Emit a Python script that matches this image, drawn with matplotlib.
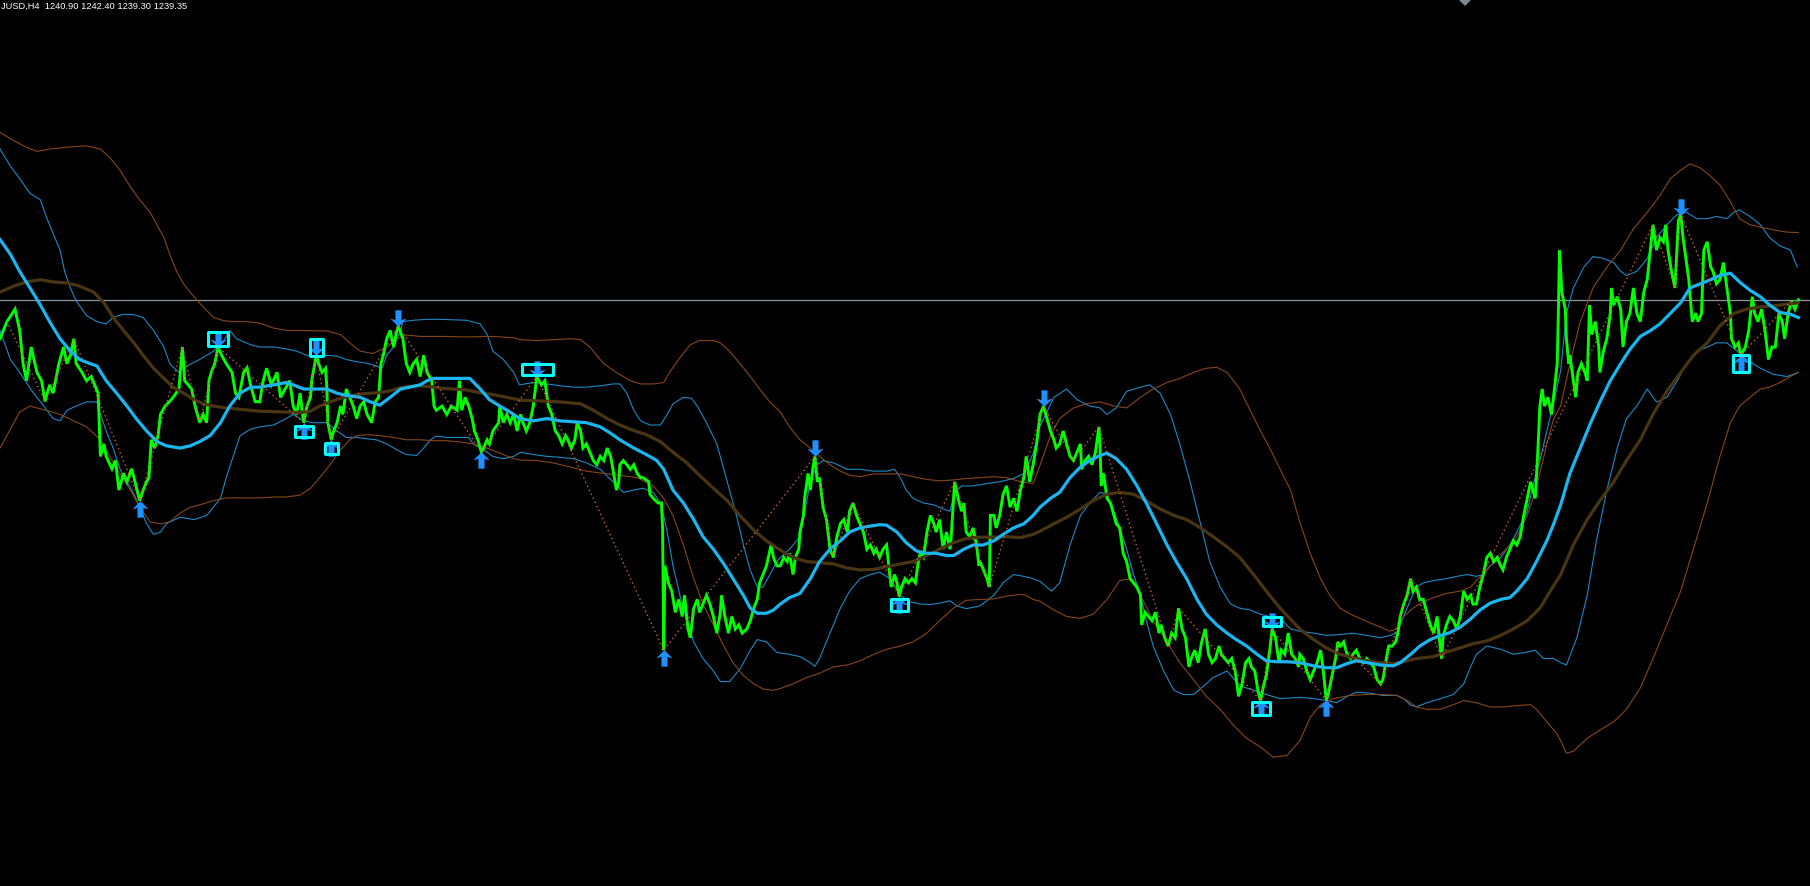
import matplotlib
matplotlib.use("Agg")
import matplotlib.pyplot as plt
from matplotlib.path import Path
from matplotlib.patches import Polygon
import matplotlib.transforms as mtransforms

# ---------------- data (bar index, price) ----------------
header_text = "JUSD,H4  1240.90 1242.40 1239.30 1239.35"
last_price = 1239.35

price_bar = [0, 6, 13, 17, 20, 23, 27, 32, 36, 39, 43, 46, 51, 55, 58, 61, 64, 66, 71, 75, 79, 82, 85, 87, 90, 92, 97, 100, 103, 107, 110, 114, 117, 121, 124, 127, 129, 131, 134, 137, 139, 143, 147, 150, 155, 158, 160, 163, 166, 169, 173, 176, 179, 181, 183, 186, 189, 192, 196, 201, 204, 207, 211, 214, 217, 221,
             225, 228, 231, 235, 240, 243, 247, 251, 254, 257, 260, 263, 266, 269, 270, 274, 276, 279, 282, 283, 284, 287, 289, 292, 295, 297, 300, 303, 306, 309, 312, 315, 318, 322, 325, 328, 330, 332, 335, 338, 341, 343, 345, 349, 352, 355, 358, 361, 364, 367, 370, 374, 376, 378, 383, 387, 391, 396, 398, 400, 403, 406, 409, 411, 414, 417, 419, 422, 424, 427, 432, 433, 436, 439, 442, 445, 448,
             451, 453, 456, 459, 462, 465, 469, 472, 475, 478, 481, 484, 487, 490, 492, 495, 498, 500, 503, 505, 508, 511, 514, 517, 520, 523, 526, 529, 531, 534, 536, 537, 540, 543, 546, 549, 552, 555, 557, 562, 563, 566, 570, 573, 574, 575, 576, 579, 582, 585, 588, 591, 593, 596, 598, 601, 604, 606, 609, 612, 615, 618, 621, 624, 625, 628, 631, 634, 637, 640, 643, 647, 650, 653, 656, 658, 661, 664, 668, 670, 673,
             676, 679, 682, 684, 687, 689, 692, 693, 696, 697, 700, 702, 704, 706, 708, 710, 713, 716, 719, 722, 725, 728, 731, 734, 736, 739, 742, 745, 748, 751, 754, 757, 759, 762, 765, 768, 770, 772, 775, 777, 779, 781, 784, 787, 790, 793, 795, 797, 800, 803, 806, 809, 811, 814, 817, 820, 823, 824, 827, 830, 833, 835, 837, 840, 843, 846, 848, 849, 852, 855, 857, 858, 861, 863, 866, 869, 872, 875, 878, 881, 884, 887, 889, 892, 895, 898,
             901, 904, 907, 910, 913, 915, 918, 921, 924, 927, 930, 933, 936, 937, 940, 943, 946, 949, 952, 953, 954, 956, 959, 962, 965, 967, 970, 973, 976, 979, 982, 985, 988, 989, 992, 995, 998, 1001, 1004, 1006, 1009, 1012, 1015, 1018, 1021, 1024, 1027, 1030, 1032, 1035, 1038, 1041, 1044, 1047, 1050, 1053, 1056, 1058, 1061, 1064, 1067, 1070, 1073, 1076, 1079, 1082, 1084, 1087, 1090, 1092, 1095, 1097, 1100, 1102, 1105, 1108, 1110, 1113, 1116, 1119, 1122, 1125,
             1126, 1129, 1132, 1135, 1138, 1141, 1144, 1146, 1149, 1151, 1154, 1157, 1159, 1161, 1164, 1167, 1170, 1172, 1175, 1178, 1181, 1184, 1187, 1190, 1193, 1196, 1198, 1201, 1203, 1206, 1209, 1211, 1213, 1216, 1219, 1222, 1224, 1227, 1230, 1233, 1236, 1239, 1242, 1245, 1248, 1249, 1250, 1253, 1256, 1259, 1262, 1265, 1268, 1271, 1274, 1276, 1279, 1282, 1285, 1288, 1291, 1294, 1297, 1300, 1302, 1305, 1308, 1311, 1314, 1317, 1320, 1323, 1326, 1328, 1330, 1332, 1334, 1336, 1338, 1341, 1344, 1347, 1349, 1350, 1351,
             1352, 1353, 1356, 1357, 1359, 1360, 1363, 1365, 1367, 1370, 1373, 1375, 1377, 1379, 1382, 1385, 1386, 1389, 1392, 1395, 1396, 1398, 1401, 1404, 1406, 1409, 1412, 1415, 1418, 1421, 1424, 1427, 1430, 1432, 1435, 1438, 1441, 1443, 1445, 1448, 1451, 1454, 1456, 1458, 1461, 1463, 1466, 1469, 1471, 1474, 1476, 1479, 1482, 1484, 1487, 1490, 1493, 1496, 1499, 1500, 1503, 1506, 1508, 1512, 1515, 1518, 1520, 1523, 1526, 1529, 1532, 1535, 1538, 1541, 1544, 1546, 1549, 1552, 1555, 1558]

price_close = [1230.9, 1234.6, 1237.3, 1232.8, 1225.5, 1221.8, 1229.1, 1223.6, 1221.8, 1217.3, 1220.9, 1219.1, 1225.5, 1229.1, 1225.5, 1227.3, 1230.9, 1225.5, 1223.6, 1221.8, 1222.7, 1220.9, 1219.1, 1205.4, 1208.1, 1205.4, 1202.7, 1204.5, 1198.1, 1201.7, 1199.9, 1202.7, 1199.9, 1195.8, 1198.1, 1199.9, 1200.8, 1209.0, 1207.2, 1210.0, 1214.5, 1216.3, 1217.3, 1218.2, 1220.0, 1229.1, 1221.8, 1220.9, 1220.0, 1216.3, 1212.7, 1214.5, 1212.7, 1221.8, 1223.6, 1225.5, 1229.1, 1227.3, 1225.5, 1223.6, 1219.1, 1218.2, 1223.6, 1224.6, 1220.9, 1217.3,
               1217.2, 1221.8, 1224.5, 1220.9, 1223.6, 1218.2, 1220.0, 1221.8, 1216.3, 1214.5, 1219.1, 1212.7, 1216.3, 1218.2, 1221.8, 1227.3, 1225.5, 1223.6, 1224.5, 1220.9, 1212.7, 1209.0, 1210.9, 1212.7, 1216.3, 1214.5, 1220.0, 1218.2, 1216.3, 1213.6, 1216.3, 1217.2, 1214.5, 1212.7, 1217.2, 1218.2, 1225.5, 1227.3, 1230.9, 1232.7, 1229.1, 1231.8, 1233.7, 1230.9, 1225.5, 1223.6, 1225.5, 1226.4, 1222.7, 1227.3, 1223.6, 1221.8, 1216.3, 1215.4, 1216.3, 1214.5, 1216.3, 1215.4, 1221.8, 1215.4, 1218.2, 1216.3, 1213.6, 1210.9, 1209.0, 1206.3, 1207.2, 1209.0, 1208.1, 1210.9, 1212.7, 1216.3, 1212.7, 1214.5, 1212.7, 1214.5, 1210.9,
               1214.5, 1212.7, 1210.9, 1212.7, 1216.3, 1222.7, 1220.9, 1221.8, 1216.3, 1214.5, 1210.9, 1209.9, 1208.1, 1209.9, 1209.0, 1207.2, 1209.0, 1212.7, 1210.9, 1207.2, 1208.1, 1206.3, 1204.5, 1203.6, 1205.4, 1204.5, 1207.2, 1205.4, 1202.6, 1198.1, 1199.9, 1203.6, 1204.5, 1203.6, 1202.6, 1203.6, 1201.7, 1200.8, 1200.8, 1199.9, 1197.2, 1196.3, 1195.3, 1195.3, 1189.9, 1163.4, 1181.7, 1178.0, 1176.2, 1171.6, 1174.4, 1170.7, 1175.3, 1168.0, 1166.1, 1172.5, 1174.4, 1171.6, 1173.4, 1175.3, 1173.4, 1170.7, 1167.1, 1171.6, 1175.3, 1170.7, 1167.1, 1170.7, 1168.0, 1168.9, 1167.1, 1168.0, 1169.8, 1172.5, 1174.4, 1178.0, 1179.8, 1181.7, 1186.2, 1183.5, 1181.7,
               1181.7, 1183.5, 1182.6, 1184.4, 1179.8, 1183.5, 1185.3, 1189.0, 1192.6, 1196.3, 1201.7, 1198.1, 1202.6, 1205.4, 1199.9, 1200.8, 1194.4, 1191.7, 1185.3, 1183.5, 1188.0, 1190.8, 1191.7, 1189.0, 1193.5, 1195.3, 1192.6, 1190.8, 1189.0, 1185.3, 1186.2, 1184.4, 1185.3, 1183.5, 1185.3, 1186.2, 1181.7, 1177.1, 1179.8, 1178.0, 1175.0, 1177.1, 1178.9, 1178.0, 1178.9, 1178.0, 1181.7, 1184.4, 1183.5, 1189.0, 1192.6, 1190.8, 1189.0, 1191.7, 1185.3, 1189.0, 1185.3, 1188.0, 1199.9, 1196.3, 1193.5, 1195.3, 1189.0, 1188.0, 1189.9, 1186.2, 1181.7, 1182.6, 1180.8, 1178.9, 1177.1, 1192.6, 1192.6, 1189.9, 1192.6, 1197.2, 1199.0, 1194.4, 1196.3, 1193.5, 1198.1, 1200.8, 1205.4, 1199.9, 1203.6, 1208.1,
               1214.5, 1216.3, 1213.6, 1210.9, 1209.0, 1207.2, 1208.1, 1210.9, 1208.1, 1205.4, 1204.5, 1206.3, 1208.1, 1202.6, 1204.5, 1205.4, 1203.6, 1206.3, 1211.8, 1207.2, 1199.0, 1201.7, 1196.3, 1195.3, 1192.6, 1190.8, 1189.9, 1184.4, 1182.6, 1178.9, 1178.0, 1177.1, 1175.3, 1168.9, 1171.6, 1170.7, 1169.8, 1171.6, 1167.1, 1168.9, 1166.1, 1164.3, 1167.1, 1166.1, 1172.5, 1168.0, 1166.1, 1159.8, 1161.6, 1163.4, 1160.7, 1165.2, 1168.0, 1162.5, 1160.7, 1161.6, 1164.3, 1162.5, 1161.6, 1160.7, 1161.6, 1158.9, 1153.4, 1156.1, 1160.7, 1161.6, 1159.8, 1158.9, 1154.3, 1152.5, 1156.1, 1157.9, 1163.4, 1168.0, 1166.1, 1160.7, 1163.4, 1162.5, 1167.1, 1162.5, 1161.6, 1159.8,
               1162.5, 1161.6, 1158.9, 1157.0, 1158.9, 1160.7, 1163.4, 1159.8, 1152.5, 1154.3, 1157.9, 1161.6, 1165.2, 1164.3, 1165.2, 1162.5, 1161.6, 1162.5, 1163.4, 1161.6, 1160.7, 1161.6, 1160.7, 1159.8, 1157.0, 1156.1, 1157.0, 1161.6, 1164.3, 1164.3, 1165.2, 1167.1, 1170.7, 1173.4, 1175.3, 1178.9, 1176.2, 1177.1, 1174.4, 1174.4, 1171.6, 1168.9, 1167.1, 1170.7, 1163.4, 1161.6, 1166.1, 1168.9, 1170.7, 1169.8, 1168.0, 1170.7, 1176.2, 1174.4, 1175.3, 1173.4, 1173.4, 1177.1, 1179.8, 1183.5, 1184.4, 1182.6, 1183.5, 1181.7, 1180.8, 1183.5, 1185.3, 1187.1, 1186.2, 1188.0, 1192.6, 1196.3, 1199.9, 1198.1, 1196.3, 1205.4, 1216.3, 1220.0, 1216.3, 1218.2, 1214.5, 1220.9, 1225.5, 1236.4, 1250.1,
               1245.5, 1241.0, 1237.3, 1230.9, 1225.5, 1227.3, 1221.8, 1218.2, 1223.6, 1225.5, 1223.6, 1221.8, 1238.2, 1231.8, 1234.6, 1229.1, 1223.6, 1228.2, 1230.9, 1236.4, 1241.9, 1238.2, 1240.0, 1237.3, 1229.1, 1234.6, 1236.4, 1241.9, 1236.4, 1234.6, 1241.0, 1243.7, 1251.0, 1255.6, 1250.1, 1252.8, 1251.9, 1255.6, 1250.1, 1245.5, 1241.9, 1256.5, 1257.8, 1252.8, 1247.4, 1243.7, 1234.6, 1236.4, 1234.6, 1236.4, 1250.1, 1251.9, 1246.4, 1245.5, 1242.8, 1243.7, 1247.4, 1241.9, 1236.4, 1230.9, 1229.1, 1230.0, 1227.3, 1229.1, 1232.7, 1240.0, 1236.4, 1234.6, 1237.3, 1232.7, 1226.4, 1229.1, 1229.1, 1236.4, 1234.6, 1230.9, 1236.4, 1239.1, 1237.3, 1239.35]

# fast moving average (thick light blue)
ma_fast_bar = [0, 9, 17, 26, 35, 43, 52, 61, 69, 78, 84, 92, 101, 110, 118, 127, 136, 144, 156, 165, 173, 182, 191, 199, 208, 217, 225, 237, 248, 254, 263, 271, 283, 292, 300, 312, 321, 329, 338, 347, 355, 364, 370, 375, 387, 399, 407, 416, 424, 433, 442, 450, 462, 474, 485, 497, 508, 520, 529, 537, 549, 560, 569, 575, 583, 592, 601, 609, 618, 627, 635, 644, 650, 656, 664, 670, 676, 684, 693, 702, 710, 719, 728, 736, 745, 754, 762, 768, 777, 785, 794, 803, 811, 820, 826, 835, 843, 852, 861, 869, 878, 887, 895, 901, 910, 918, 927, 936, 944, 953, 959, 967, 976, 985, 993, 1002, 1011, 1019, 1028, 1037, 1045, 1054, 1063, 1071, 1080, 1089, 1097, 1106, 1115, 1126, 1138, 1149, 1158, 1167, 1175, 1184, 1196, 1207, 1213, 1222, 1230, 1239, 1248, 1256, 1265, 1274, 1282, 1291, 1300, 1308, 1314, 1323, 1331, 1340, 1346, 1352, 1360, 1369, 1378, 1386, 1395, 1404, 1412, 1421, 1430, 1438, 1447, 1456, 1464, 1473, 1482, 1490, 1499, 1507, 1516, 1525, 1533, 1542, 1551, 1558]
ma_fast = [1252.4, 1249.2, 1245.5, 1241.9, 1238.2, 1234.6, 1230.9, 1228.2, 1226.4, 1225.5, 1225.0, 1221.8, 1219.1, 1216.3, 1213.6, 1210.9, 1208.6, 1207.7, 1207.2, 1207.7, 1208.6, 1209.9, 1212.7, 1216.3, 1219.1, 1220.4, 1220.4, 1220.9, 1221.4, 1220.9, 1220.0, 1220.0, 1220.0, 1219.1, 1218.6, 1218.2, 1217.2, 1216.5, 1218.2, 1220.0, 1220.4, 1220.9, 1221.8, 1222.3, 1222.3, 1222.3, 1222.3, 1220.0, 1217.7, 1216.3, 1215.0, 1213.6, 1213.1, 1213.6, 1213.1, 1212.9, 1212.7, 1211.8, 1210.4, 1209.0, 1207.2, 1205.8, 1204.5, 1202.6, 1198.1, 1195.3, 1191.7, 1188.0, 1185.3, 1182.1, 1178.9, 1175.3, 1172.5, 1171.4, 1171.4, 1172.1, 1173.4, 1174.8, 1175.7, 1178.9, 1182.6, 1185.3, 1187.1, 1189.0, 1189.9, 1190.3, 1190.6, 1190.5, 1189.0, 1186.7, 1184.9, 1184.4, 1184.4, 1183.9, 1183.9, 1185.3, 1186.2, 1186.2, 1187.1, 1188.5, 1189.9, 1190.8, 1192.6, 1194.4, 1196.3, 1197.6, 1200.8, 1203.1, 1204.5, 1205.6, 1206.1, 1204.9, 1202.6, 1199.0, 1195.3, 1190.8, 1186.2, 1182.6, 1178.9, 1174.4, 1171.2, 1168.9, 1167.1, 1165.7, 1164.3, 1162.5, 1161.1, 1160.9, 1160.9, 1160.7, 1160.0, 1159.6, 1159.6, 1160.5, 1161.1, 1160.7, 1160.2, 1160.0, 1160.7, 1162.5, 1164.3, 1165.7, 1166.6, 1167.2, 1168.4, 1170.2, 1172.1, 1173.6, 1174.4, 1174.8, 1176.2, 1178.9, 1182.6, 1187.1, 1190.8, 1194.9, 1201.7, 1207.2, 1212.7, 1217.2, 1221.8, 1225.5, 1228.6, 1231.4, 1232.7, 1234.1, 1236.4, 1238.7, 1241.9, 1242.8, 1243.7, 1244.6, 1245.1, 1243.2, 1241.4, 1240.0, 1238.2, 1236.6, 1236.2, 1235.5]

# slow moving average (thick dark brown)
ma_slow_bar = [0, 12, 23, 35, 46, 58, 69, 81, 90, 98, 107, 116, 124, 133, 142, 150, 159, 168, 176, 185, 196, 208, 225, 237, 248, 260, 269, 277, 286, 295, 303, 312, 321, 329, 338, 347, 355, 364, 373, 381, 393, 404, 416, 427, 439, 451, 468, 485, 503, 514, 526, 537, 549, 560, 572, 583, 595, 606, 618, 630, 641, 653, 664, 676, 687, 699, 710, 722, 734, 745, 757, 768, 780, 791, 803, 814, 826, 837, 849, 861, 872, 884, 895, 901, 913, 924, 936, 947, 959, 970, 982, 993, 1005, 1017, 1028, 1040, 1051, 1063, 1074, 1086, 1097, 1109, 1121, 1126, 1138, 1149, 1161, 1172, 1184, 1196, 1207, 1216, 1227, 1242, 1253, 1265, 1276, 1288, 1300, 1311, 1323, 1334, 1343, 1352, 1363, 1375, 1386, 1398, 1409, 1421, 1432, 1444, 1456, 1467, 1479, 1490, 1502, 1513, 1525, 1536, 1548, 1558]
ma_slow = [1241.0, 1242.3, 1243.2, 1243.7, 1243.2, 1243.0, 1242.3, 1241.0, 1238.7, 1235.5, 1232.7, 1230.0, 1227.3, 1224.5, 1222.3, 1220.4, 1219.1, 1217.7, 1216.8, 1216.3, 1215.9, 1215.6, 1215.2, 1215.1, 1215.0, 1214.9, 1215.2, 1216.3, 1217.2, 1218.0, 1218.5, 1218.9, 1219.1, 1219.2, 1219.6, 1220.3, 1220.6, 1220.7, 1220.5, 1220.2, 1220.0, 1219.8, 1219.2, 1218.8, 1218.2, 1217.6, 1217.4, 1217.2, 1216.8, 1215.4, 1213.6, 1212.2, 1211.0, 1210.1, 1208.6, 1206.3, 1204.0, 1201.3, 1198.5, 1195.8, 1192.6, 1189.4, 1187.1, 1185.1, 1183.5, 1182.6, 1182.4, 1182.1, 1181.2, 1180.8, 1180.9, 1181.5, 1182.1, 1182.6, 1183.9, 1185.3, 1186.7, 1187.6, 1187.9, 1187.9, 1188.0, 1187.8, 1188.5, 1189.2, 1190.8, 1192.2, 1194.0, 1195.8, 1197.2, 1197.6, 1197.2, 1195.8, 1194.0, 1192.6, 1191.7, 1189.9, 1188.0, 1185.8, 1183.5, 1179.8, 1176.2, 1172.5, 1169.3, 1168.0, 1165.7, 1163.9, 1162.5, 1161.8, 1161.1, 1160.7, 1160.5, 1160.9, 1161.6, 1162.0, 1163.0, 1163.9, 1164.8, 1165.4, 1166.6, 1168.0, 1169.8, 1172.5, 1176.2, 1179.8, 1186.2, 1191.7, 1195.8, 1199.9, 1204.5, 1209.0, 1214.5, 1219.5, 1223.6, 1227.3, 1230.0, 1233.7, 1236.4, 1237.3, 1237.8, 1238.0, 1238.4, 1238.7]

# envelope around fast average (thin blue)
fast_upper_bar = [0, 9, 17, 26, 35, 40, 46, 52, 56, 61, 66, 75, 84, 92, 98, 107, 116, 124, 133, 142, 147, 155, 162, 173, 185, 194, 199, 205, 217, 225, 237, 248, 257, 266, 274, 283, 292, 300, 309, 318, 326, 331, 335, 341, 347, 349, 358, 370, 381, 393, 404, 416, 422, 427, 436, 445, 450, 462, 474, 485, 497, 508, 520, 531, 537, 543, 549, 555, 563, 572, 578, 583, 592, 599, 604, 612, 621, 627, 632, 638, 644, 650, 656, 661, 667, 673, 676, 684, 693, 702, 708, 713, 722, 734, 745, 757, 768, 775, 780, 785, 791, 800, 809, 817, 823, 827, 833, 843, 855, 866, 878, 887, 895, 901, 913, 924, 933, 944, 953, 959, 967, 976, 988, 996, 1005, 1014, 1022, 1031, 1040, 1048, 1057, 1066, 1074, 1083, 1092, 1100, 1109, 1118, 1126, 1138, 1149, 1161, 1172, 1184, 1196, 1204, 1210, 1216, 1222, 1227, 1233, 1242, 1253, 1262, 1271, 1279, 1285, 1291, 1300, 1308, 1314, 1323, 1328, 1334, 1340, 1346, 1352, 1357, 1363, 1372, 1380, 1389, 1398, 1404, 1409, 1418, 1427, 1435, 1444, 1453, 1461, 1470, 1479, 1487, 1496, 1502, 1507, 1516, 1525, 1533, 1542, 1551, 1557]
fast_upper = [1272.0, 1268.3, 1265.6, 1262.4, 1261.0, 1257.4, 1253.7, 1250.1, 1245.5, 1241.9, 1239.1, 1235.9, 1234.6, 1234.1, 1235.5, 1236.2, 1236.1, 1235.5, 1232.7, 1229.1, 1225.5, 1223.6, 1225.0, 1226.4, 1228.2, 1230.5, 1232.7, 1230.9, 1229.6, 1229.1, 1229.1, 1228.7, 1228.2, 1227.3, 1227.1, 1227.3, 1227.1, 1226.4, 1225.9, 1225.6, 1225.0, 1224.5, 1227.3, 1229.1, 1232.7, 1234.6, 1234.9, 1235.1, 1235.1, 1235.0, 1234.9, 1234.1, 1231.8, 1228.2, 1226.4, 1223.6, 1220.9, 1221.4, 1221.1, 1220.7, 1220.4, 1220.4, 1220.7, 1221.1, 1221.1, 1219.1, 1215.4, 1213.1, 1212.2, 1212.2, 1214.5, 1216.8, 1218.2, 1218.0, 1216.3, 1212.7, 1208.1, 1202.6, 1198.1, 1192.6, 1186.2, 1180.7, 1177.1, 1177.1, 1179.8, 1182.6, 1183.5, 1185.3, 1188.0, 1199.9, 1203.6, 1204.5, 1204.0, 1202.6, 1202.6, 1202.2, 1202.2, 1202.6, 1200.8, 1198.1, 1196.3, 1195.3, 1194.9, 1194.0, 1193.5, 1197.6, 1199.0, 1199.0, 1199.5, 1199.9, 1200.6, 1201.7, 1206.0, 1212.0, 1218.2, 1220.0, 1217.7, 1216.3, 1215.9, 1214.5, 1215.9, 1219.5, 1220.4, 1220.9, 1219.1, 1214.5, 1208.1, 1199.9, 1190.8, 1182.6, 1177.1, 1173.4, 1172.5, 1172.1, 1171.2, 1170.7, 1170.3, 1168.0, 1167.5, 1167.1, 1166.6, 1166.8, 1167.1, 1166.6, 1166.1, 1166.6, 1167.1, 1170.7, 1174.4, 1177.1, 1178.0, 1178.5, 1178.9, 1179.4, 1179.8, 1179.4, 1179.8, 1181.7, 1183.5, 1186.2, 1189.0, 1193.5, 1199.0, 1204.5, 1210.9, 1217.2, 1224.0, 1236.4, 1241.9, 1246.4, 1248.7, 1248.3, 1247.4, 1245.5, 1244.6, 1245.5, 1248.3, 1252.8, 1255.6, 1257.8, 1258.3, 1256.9, 1256.9, 1257.4, 1256.9, 1258.3, 1258.8, 1257.4, 1255.6, 1252.8, 1251.0, 1250.1, 1246.4]

fast_lower_bar = [0, 9, 17, 29, 38, 46, 52, 58, 66, 75, 84, 87, 92, 98, 104, 110, 116, 121, 127, 133, 139, 144, 156, 168, 179, 191, 196, 202, 208, 217, 225, 237, 248, 254, 263, 271, 283, 292, 300, 309, 318, 326, 335, 344, 352, 361, 367, 373, 378, 387, 399, 406, 410, 419, 427, 436, 445, 451, 462, 474, 485, 497, 508, 520, 531, 540, 549, 557, 566, 573, 578, 583, 589, 595, 601, 609, 618, 624, 632, 641, 650, 656, 664, 673, 684, 693, 702, 706, 710, 719, 728, 736, 745, 754, 762, 771, 780, 788, 797, 806, 814, 823, 829, 837, 849, 861, 869, 878, 887, 895, 901, 911, 918, 927, 936, 944, 953, 959, 965, 970, 976, 982, 988, 993, 999, 1008, 1017, 1025, 1034, 1043, 1051, 1063, 1074, 1086, 1097, 1109, 1126, 1138, 1149, 1158, 1167, 1175, 1187, 1198, 1210, 1216, 1222, 1227, 1236, 1248, 1259, 1268, 1274, 1279, 1288, 1300, 1311, 1323, 1330, 1337, 1346, 1352, 1357, 1366, 1375, 1383, 1392, 1401, 1409, 1418, 1427, 1435, 1444, 1453, 1461, 1470, 1479, 1487, 1496, 1505, 1513, 1525, 1536, 1548, 1558]
fast_lower = [1232.7, 1226.4, 1223.6, 1219.1, 1216.3, 1213.6, 1213.1, 1215.4, 1216.3, 1217.2, 1217.2, 1214.5, 1210.9, 1207.2, 1202.6, 1199.9, 1197.2, 1194.4, 1190.8, 1188.5, 1189.0, 1190.8, 1192.2, 1191.7, 1192.6, 1196.3, 1200.8, 1205.4, 1209.9, 1211.3, 1211.8, 1212.2, 1213.6, 1214.5, 1213.1, 1212.7, 1212.7, 1210.9, 1209.5, 1209.5, 1209.2, 1209.0, 1208.1, 1206.8, 1205.8, 1205.6, 1207.2, 1209.0, 1209.8, 1209.5, 1209.5, 1209.5, 1208.1, 1206.8, 1205.4, 1204.9, 1205.4, 1206.3, 1205.8, 1205.4, 1205.2, 1204.9, 1204.0, 1202.6, 1199.9, 1197.6, 1198.1, 1198.5, 1197.6, 1194.9, 1189.0, 1181.7, 1175.3, 1169.8, 1165.2, 1161.6, 1158.9, 1156.6, 1156.6, 1159.3, 1163.4, 1165.7, 1165.2, 1162.9, 1162.5, 1162.0, 1160.7, 1159.9, 1161.6, 1167.1, 1172.5, 1176.2, 1178.9, 1179.8, 1180.3, 1178.9, 1175.3, 1173.9, 1173.4, 1173.3, 1173.6, 1174.1, 1173.0, 1172.4, 1173.0, 1175.3, 1178.0, 1179.8, 1179.4, 1178.9, 1178.3, 1176.2, 1178.0, 1186.2, 1192.6, 1195.3, 1197.6, 1197.2, 1193.5, 1189.9, 1185.3, 1179.8, 1175.3, 1169.8, 1164.3, 1158.9, 1154.7, 1153.8, 1153.8, 1155.7, 1157.5, 1158.9, 1155.7, 1154.7, 1153.8, 1152.9, 1153.2, 1152.9, 1152.5, 1152.0, 1153.4, 1154.3, 1154.1, 1153.6, 1153.6, 1152.9, 1151.5, 1151.1, 1152.0, 1152.9, 1153.8, 1156.1, 1159.8, 1162.5, 1164.3, 1163.6, 1162.5, 1163.0, 1163.4, 1161.6, 1161.6, 1160.7, 1160.2, 1166.1, 1175.3, 1187.1, 1198.1, 1207.2, 1213.6, 1216.3, 1220.0, 1217.2, 1218.2, 1221.8, 1225.5, 1228.2, 1229.1, 1230.0, 1230.0, 1228.2, 1226.4, 1224.5, 1223.2, 1222.7, 1223.6]

# envelope around slow average (thin brown)
slow_upper_bar = [0, 12, 23, 32, 43, 58, 75, 87, 95, 104, 113, 121, 130, 136, 142, 147, 153, 159, 168, 176, 185, 194, 202, 214, 225, 237, 248, 260, 271, 283, 295, 303, 312, 323, 335, 344, 352, 364, 375, 387, 399, 410, 422, 433, 445, 451, 465, 479, 494, 503, 511, 523, 534, 546, 555, 566, 575, 580, 589, 598, 606, 618, 624, 632, 641, 650, 658, 667, 676, 684, 693, 702, 710, 719, 728, 736, 745, 757, 768, 780, 791, 803, 814, 826, 837, 849, 861, 872, 884, 895, 901, 910, 918, 930, 941, 953, 965, 976, 988, 999, 1011, 1022, 1034, 1045, 1054, 1063, 1074, 1083, 1092, 1100, 1109, 1118, 1126, 1135, 1144, 1152, 1161, 1170, 1178, 1187, 1196, 1204, 1210, 1216, 1224, 1233, 1242, 1253, 1265, 1274, 1279, 1288, 1297, 1305, 1314, 1323, 1328, 1334, 1340, 1346, 1352, 1360, 1369, 1380, 1392, 1404, 1415, 1427, 1438, 1447, 1456, 1464, 1473, 1482, 1490, 1499, 1507, 1516, 1525, 1536, 1548, 1558]
slow_upper = [1275.6, 1273.8, 1272.4, 1271.5, 1272.0, 1272.4, 1272.7, 1272.0, 1270.2, 1267.4, 1263.8, 1261.0, 1258.3, 1255.6, 1252.8, 1249.2, 1245.5, 1242.8, 1240.0, 1237.8, 1235.5, 1234.8, 1234.6, 1234.6, 1234.3, 1233.2, 1232.7, 1232.7, 1232.6, 1232.6, 1231.8, 1230.0, 1228.2, 1227.7, 1229.1, 1230.9, 1231.7, 1231.4, 1231.4, 1231.4, 1231.3, 1231.3, 1231.4, 1231.3, 1231.1, 1230.7, 1230.5, 1230.7, 1230.9, 1230.7, 1229.1, 1225.5, 1223.6, 1221.8, 1221.1, 1221.1, 1221.4, 1223.6, 1226.8, 1229.6, 1230.5, 1230.5, 1230.0, 1228.2, 1225.5, 1222.7, 1220.0, 1217.2, 1215.0, 1211.8, 1209.0, 1207.2, 1205.4, 1203.6, 1202.2, 1201.3, 1201.0, 1201.6, 1201.6, 1201.6, 1201.0, 1200.4, 1200.1, 1200.3, 1200.6, 1200.8, 1201.0, 1200.8, 1199.9, 1199.5, 1203.5, 1209.9, 1213.6, 1215.9, 1216.8, 1217.2, 1216.3, 1215.9, 1218.2, 1220.0, 1221.4, 1222.3, 1223.6, 1224.5, 1224.7, 1223.6, 1220.0, 1215.4, 1210.9, 1207.2, 1202.6, 1198.1, 1191.2, 1184.4, 1178.9, 1175.3, 1172.5, 1171.2, 1170.3, 1169.3, 1168.4, 1167.5, 1168.0, 1170.7, 1172.5, 1173.9, 1174.8, 1175.7, 1176.2, 1177.1, 1178.5, 1180.7, 1183.5, 1185.3, 1188.0, 1192.6, 1196.3, 1201.7, 1208.1, 1213.6, 1216.3, 1225.5, 1234.6, 1241.9, 1246.4, 1250.1, 1254.7, 1258.3, 1261.9, 1265.6, 1267.4, 1268.8, 1267.9, 1266.1, 1264.2, 1260.6, 1256.9, 1255.6, 1255.1, 1254.5, 1254.0, 1253.9]

slow_lower_bar = [0, 6, 12, 17, 26, 32, 40, 52, 64, 75, 87, 95, 104, 113, 121, 130, 139, 147, 156, 165, 173, 185, 196, 208, 225, 237, 248, 260, 269, 277, 286, 295, 303, 309, 318, 329, 341, 352, 364, 375, 387, 399, 410, 422, 433, 445, 451, 465, 479, 494, 508, 523, 537, 552, 566, 575, 583, 592, 601, 609, 618, 627, 635, 644, 653, 661, 670, 676, 687, 699, 710, 722, 734, 745, 757, 768, 780, 791, 803, 814, 826, 837, 849, 861, 872, 884, 889, 895, 901, 913, 924, 936, 947, 959, 970, 979, 988, 999, 1011, 1022, 1034, 1045, 1057, 1069, 1080, 1092, 1103, 1115, 1126, 1135, 1144, 1155, 1170, 1184, 1198, 1210, 1219, 1227, 1236, 1248, 1259, 1268, 1279, 1291, 1302, 1314, 1326, 1331, 1340, 1349, 1352, 1357, 1363, 1375, 1386, 1398, 1409, 1421, 1432, 1444, 1456, 1467, 1479, 1490, 1499, 1507, 1516, 1525, 1533, 1542, 1551, 1558]
slow_lower = [1207.2, 1209.9, 1212.7, 1215.0, 1216.3, 1215.9, 1215.4, 1214.5, 1213.1, 1211.8, 1209.0, 1205.4, 1201.7, 1198.1, 1194.4, 1191.2, 1190.8, 1191.2, 1193.1, 1194.4, 1194.9, 1195.8, 1196.4, 1196.4, 1196.4, 1196.6, 1196.6, 1197.0, 1198.5, 1200.8, 1203.6, 1206.8, 1209.0, 1209.9, 1210.1, 1209.9, 1209.5, 1209.0, 1209.0, 1208.8, 1208.8, 1208.5, 1208.1, 1207.2, 1206.1, 1204.9, 1204.6, 1204.5, 1204.0, 1203.1, 1202.2, 1201.7, 1201.3, 1200.8, 1199.0, 1196.3, 1192.6, 1186.2, 1178.9, 1173.4, 1168.9, 1164.3, 1160.7, 1157.9, 1156.1, 1155.0, 1154.7, 1155.1, 1156.1, 1157.5, 1158.4, 1159.8, 1160.2, 1161.1, 1162.5, 1163.6, 1164.3, 1165.2, 1167.1, 1169.8, 1172.5, 1174.2, 1174.4, 1174.5, 1175.1, 1175.5, 1175.3, 1174.4, 1174.0, 1172.1, 1170.7, 1170.3, 1171.2, 1174.4, 1178.5, 1178.9, 1175.3, 1169.8, 1165.2, 1160.7, 1157.0, 1153.4, 1150.6, 1147.0, 1144.3, 1142.4, 1140.2, 1140.6, 1143.8, 1148.8, 1151.6, 1152.9, 1153.6, 1153.8, 1153.8, 1153.6, 1152.5, 1151.1, 1150.6, 1150.6, 1151.6, 1152.5, 1152.0, 1151.1, 1151.1, 1151.4, 1151.6, 1150.6, 1147.9, 1145.2, 1143.8, 1141.1, 1141.5, 1144.3, 1146.1, 1147.9, 1150.6, 1155.2, 1161.6, 1168.9, 1176.2, 1185.3, 1195.3, 1205.4, 1212.7, 1216.3, 1218.2, 1220.0, 1220.4, 1221.4, 1222.7, 1223.6]

# zigzag turning points and signal arrows (bar indices into the price series)
zigzag_bars = [6, 39, 64, 121, 158, 173, 189, 263, 274, 287, 345, 417, 465, 575, 706, 722, 739, 779, 827, 857,
               904, 930, 952, 1012, 1021, 1092, 1102, 1149, 1159, 1196, 1222, 1249, 1432, 1451, 1456, 1508, 1552]
arrow_up_bars = [121, 263, 287, 417, 575, 779, 1092, 1149, 1508]
arrow_down_bars = [189, 274, 345, 465, 706, 904, 1102, 1456]
boxed_bars = [189, 263, 274, 287, 465, 779, 1092, 1102, 1508]

# ---------------- style ----------------
BG = "#000000"
C_PRICE = "#00FF00"
C_FAST = "#19B6F2"
C_FAST_BAND = "#1E88C4"
C_SLOW = "#4A3512"
C_SLOW_BAND = "#86461C"
C_ZIG = "#C8643A"
C_ARROW = "#1E90FF"
C_BOX = "#00FFFF"
C_HLINE = "#8C96A0"
DPI = 100
W, H = 1810, 886
# box outer size in pixels (w, h) per boxed signal
box_px = {189: (23, 17), 263: (21, 14), 274: (16, 20), 287: (16, 14), 465: (34, 14),
          779: (20, 15), 1092: (21, 16), 1102: (21, 12), 1508: (19, 20)}

fig = plt.figure(figsize=(W / DPI, H / DPI), dpi=DPI, facecolor=BG)
ax = fig.add_axes([0, 0, 1, 1])
ax.set_facecolor(BG)
ax.set_xlim(0, 1568)
ax.set_ylim(1112.3, 1304.3)
ax.axis("off")

close_at = dict(zip(price_bar, price_close))

# bands
ax.plot(fast_upper_bar, fast_upper, color=C_FAST_BAND, lw=0.8, zorder=2)
ax.plot(fast_lower_bar, fast_lower, color=C_FAST_BAND, lw=0.8, zorder=2)
ax.plot(slow_upper_bar, slow_upper, color=C_SLOW_BAND, lw=0.8, zorder=2)
ax.plot(slow_lower_bar, slow_lower, color=C_SLOW_BAND, lw=0.8, zorder=2)

# current price line
ax.axhline(last_price, color=C_HLINE, lw=0.9, zorder=1.5)

# price
ax.plot(price_bar, price_close, color=C_PRICE, lw=2.1, zorder=3, solid_joinstyle="miter")

# moving averages
ax.plot(ma_slow_bar, ma_slow, color=C_SLOW, lw=2.3, zorder=4)
ax.plot(ma_fast_bar, ma_fast, color=C_FAST, lw=2.3, zorder=4)

# zigzag
ax.plot(zigzag_bars, [close_at[b] for b in zigzag_bars], color=C_ZIG, lw=1.0,
        linestyle=(0, (1, 2.2)), zorder=5)

# arrow markers
up_path = Path([(0, 0.5), (0.46, 0.04), (0.17, 0.12), (0.17, -0.5), (-0.17, -0.5),
                (-0.17, 0.12), (-0.46, 0.04), (0, 0.5)], closed=True)
down_path = Path([(x, -y) for x, y in up_path.vertices], closed=True)
off_pt = 8 * 72 / DPI
tr_up = mtransforms.offset_copy(ax.transData, fig=fig, x=0, y=-off_pt, units="points")
tr_dn = mtransforms.offset_copy(ax.transData, fig=fig, x=0, y=off_pt, units="points")
ms_arrow = 16 * 72 / DPI
ax.plot(arrow_up_bars, [close_at[b] for b in arrow_up_bars], linestyle="none",
        marker=up_path, ms=ms_arrow, mfc=C_ARROW, mec=C_ARROW, mew=0.3,
        transform=tr_up, zorder=6)
ax.plot(arrow_down_bars, [close_at[b] for b in arrow_down_bars], linestyle="none",
        marker=down_path, ms=ms_arrow, mfc=C_ARROW, mec=C_ARROW, mew=0.3,
        transform=tr_dn, zorder=6)

# boxes around selected arrows
box_lw_px = 3
for b in boxed_bars:
    w, h = box_px[b]
    iw, ih = w - box_lw_px, h - box_lw_px
    rect = Path([(-iw / 2, -ih / 2), (iw / 2, -ih / 2), (iw / 2, ih / 2),
                 (-iw / 2, ih / 2), (-iw / 2, -ih / 2)], closed=True)
    tr = tr_dn if b in arrow_down_bars else tr_up
    ax.plot([b], [close_at[b]], linestyle="none", marker=rect,
            ms=max(iw, ih) * 72 / DPI, mfc="none", mec=C_BOX,
            mew=box_lw_px * 72 / DPI, transform=tr, zorder=7)

# header text
fig.text(1 / W, 1 - 2 / H, header_text, color="white", fontsize=6.7,
         family=["Liberation Sans", "DejaVu Sans"], ha="left", va="top")

# small grey marker at top edge
cx = 1465 / W
tri = Polygon([(cx - 6 / W, 1.0), (cx + 6 / W, 1.0), (cx, 1 - 6 / H)],
              closed=True, transform=fig.transFigure, facecolor="#7D8A96",
              edgecolor="none", zorder=10)
fig.patches.append(tri)

fig.savefig("out.png", dpi=DPI, facecolor=BG)
